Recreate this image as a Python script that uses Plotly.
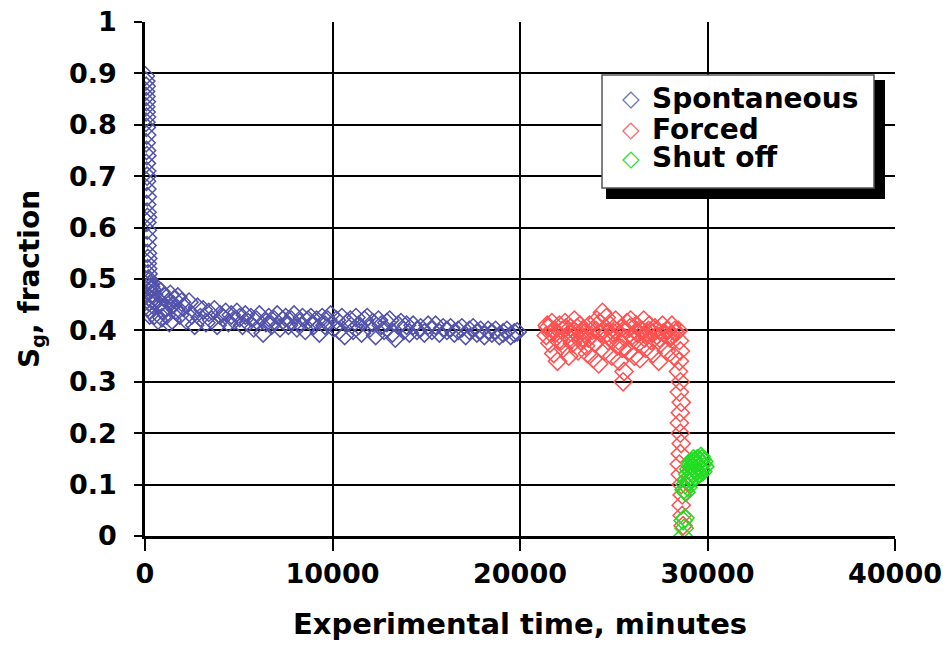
import plotly.graph_objects as go

# ---- Data ----
spont_t = [20, 40, 60, 30, 50, 70, 40, 60, 80, 50, 70, 90, 60, 80, 100, 70, 90, 110, 80, 100,
           120, 90, 110, 130, 100, 120, 140, 110, 130, 150, 120, 140, 160, 180, 200, 150, 170, 190, 210, 160,
           230, 250, 270, 300, 330, 360, 400,
           350, 450, 550, 650, 750, 850, 950, 1050, 1150, 1250, 1350, 1450, 1550, 1650, 1750, 1850, 1950,
           500, 700, 900, 1100, 1300, 1500,
           2050, 2200, 2350, 2500, 2650, 2800, 2950, 3100, 3250, 3400, 3550, 3700, 3850, 4000, 4150, 4300,
           4450, 4600, 4750, 4900,
           5050, 5200, 5350, 5500, 5650, 5800, 5950, 6100, 6300, 6450, 6600, 6750, 6900, 7050, 7200, 7350,
           7500, 7650, 7800, 7950, 8100, 8250, 8400, 8550, 8700, 8850, 9000, 9150, 9300, 9450, 9600, 9750,
           9900, 10050,
           10200, 10350, 10500, 10650, 10800, 10950, 11100, 11250, 11400, 11550, 11700, 11850, 12000, 12150,
           12300, 12450, 12600, 12750, 12900, 13050, 13200, 13350, 13500, 13650, 13800, 13950, 14100, 14300,
           14500, 14700, 14900, 15100, 15300, 15500, 15700, 15900, 16100, 16300, 16500, 16700, 16900, 17100,
           17300, 17500, 17700, 17900, 18100, 18300, 18500, 18700, 18900, 19100, 19300, 19500, 19700, 19850]
spont_sg = [0.895, 0.885, 0.875, 0.865, 0.855, 0.845, 0.835, 0.825, 0.815, 0.805, 0.795, 0.78, 0.765, 0.75,
            0.74, 0.725, 0.71, 0.70, 0.69, 0.675, 0.66, 0.645, 0.63, 0.62, 0.61, 0.595, 0.58, 0.565, 0.55,
            0.54, 0.53, 0.52, 0.51, 0.50, 0.495, 0.485, 0.475, 0.465, 0.455, 0.445, 0.44, 0.43, 0.49, 0.485,
            0.47, 0.46, 0.45,
            0.48, 0.47, 0.485, 0.46, 0.45, 0.475, 0.44, 0.465, 0.43, 0.455, 0.47, 0.42, 0.46, 0.44, 0.465,
            0.43, 0.455,
            0.43, 0.42, 0.425, 0.445, 0.415, 0.45,
            0.445, 0.42, 0.455, 0.43, 0.41, 0.445, 0.425, 0.44, 0.415, 0.435, 0.42, 0.44, 0.41, 0.43, 0.425,
            0.435, 0.415, 0.43, 0.42, 0.435,
            0.425, 0.41, 0.43, 0.415, 0.425, 0.405, 0.42, 0.43, 0.395, 0.415, 0.425, 0.41, 0.42, 0.43, 0.405,
            0.42, 0.425, 0.41, 0.42, 0.43, 0.405, 0.415, 0.425, 0.40, 0.42, 0.425, 0.41, 0.42, 0.395, 0.425,
            0.41, 0.42, 0.43, 0.405,
            0.42, 0.40, 0.425, 0.39, 0.415, 0.42, 0.40, 0.425, 0.41, 0.395, 0.42, 0.425, 0.405, 0.415, 0.39,
            0.42, 0.41, 0.40, 0.415, 0.42, 0.395, 0.385, 0.41, 0.415, 0.40, 0.41, 0.395, 0.41, 0.40, 0.405,
            0.395, 0.41, 0.40, 0.41, 0.395, 0.405, 0.40, 0.405, 0.395, 0.40, 0.405, 0.39, 0.40, 0.405, 0.395,
            0.40, 0.39, 0.40, 0.395, 0.40, 0.39, 0.395, 0.40, 0.39, 0.395, 0.397]

forced_t = [21400, 21500, 21600, 21700, 21800, 21900, 22000, 22100, 22200, 22300, 22400, 22500, 22600,
            22700, 22800, 22900, 23000, 23100, 23200, 23300, 23400, 23500, 23600, 23700, 23800, 23900,
            24000, 24100, 24200, 24300, 24400, 24500, 24600, 24700, 24800, 24900, 25000, 25100, 25200,
            25300, 25400, 25500, 25550, 25600, 25700, 25800, 25900, 26000, 26100, 26200, 26300, 26400,
            26500, 26600, 26700, 26800, 26900, 27000, 27100, 27200, 27300, 27400, 27500, 27600, 27700,
            27800, 27900, 28000, 28100, 28200, 28300,
            21450, 21650, 21850, 22050, 22250, 22450, 22650, 22850, 23050, 23250, 23450, 23650, 23850,
            24050, 24250, 24450, 24650, 24850, 25050, 25250, 25450, 25650, 25850, 26050, 26250, 26450,
            26650, 26850, 27050, 27250, 27450, 27650, 27850, 28050, 28250,
            28450, 28500, 28550, 28500, 28450, 28550, 28500, 28600, 28550, 28500, 28550, 28600, 28550,
            28500, 28550, 28600, 28650, 28600, 28650, 28700]
forced_sg = [0.39, 0.405, 0.375, 0.415, 0.355, 0.395, 0.34, 0.41, 0.38, 0.365, 0.415, 0.39, 0.35, 0.405,
             0.375, 0.42, 0.395, 0.36, 0.41, 0.385, 0.40, 0.37, 0.355, 0.41, 0.39, 0.345, 0.375, 0.42,
             0.335, 0.395, 0.435, 0.36, 0.425, 0.38, 0.41, 0.35, 0.395, 0.42, 0.37, 0.34, 0.405, 0.30,
             0.32, 0.385, 0.415, 0.36, 0.42, 0.39, 0.35, 0.41, 0.375, 0.345, 0.40, 0.42, 0.365, 0.395,
             0.41, 0.38, 0.355, 0.405, 0.39, 0.34, 0.375, 0.41, 0.395, 0.36, 0.40, 0.385, 0.41, 0.35, 0.395,
             0.41, 0.395, 0.40, 0.38, 0.40, 0.405, 0.385, 0.40, 0.405, 0.38, 0.395, 0.385, 0.40,
             0.40, 0.415, 0.40, 0.395, 0.385, 0.40, 0.38, 0.365, 0.40, 0.405, 0.385, 0.395, 0.40,
             0.385, 0.40, 0.395, 0.40, 0.385, 0.395, 0.40, 0.39, 0.40,
             0.40, 0.38, 0.36, 0.34, 0.32, 0.30, 0.28, 0.26, 0.24, 0.22, 0.20, 0.18, 0.16, 0.14, 0.12, 0.10,
             0.08, 0.06, 0.04, 0.02]

shut_t = [28700, 28750, 28700, 28800, 28750, 28800, 28850, 28900,
          28950, 29000, 29050, 29100, 29150, 29200, 29250, 29300, 29350, 29400, 29450, 29500, 29550,
          29600, 29650, 29700, 29750, 29800, 29850, 29050, 29150, 29250, 29350, 29450, 29550, 29650,
          29750, 28950, 29000]
shut_sg = [0.0, 0.015, 0.03, 0.035, 0.09, 0.10, 0.085, 0.11,
           0.12, 0.13, 0.115, 0.14, 0.125, 0.135, 0.12, 0.145, 0.13, 0.14, 0.125, 0.15, 0.135,
           0.145, 0.13, 0.15, 0.14, 0.145, 0.135, 0.105, 0.145, 0.15, 0.115, 0.15, 0.12, 0.155,
           0.125, 0.095, 0.105]

series_names = ["Spontaneous", "Forced", "Shut off"]
series_colors = ["#5252AA", "#FF5050", "#22DD22"]
legend_symbol_colors = ["#7070B8", "#FF6A6A", "#33DD33"]

x_ticks = [0, 10000, 20000, 30000, 40000]

FONT = "DejaVu Sans"

fig = go.Figure()
for name, xs, ys, col in zip(series_names, [spont_t, forced_t, shut_t],
                             [spont_sg, forced_sg, shut_sg], series_colors):
    fig.add_trace(go.Scatter(
        x=xs, y=ys, mode="markers", name=name, showlegend=False,
        marker=dict(symbol="diamond-open", size=14, color=col, line=dict(width=1.5, color=col)),
    ))

# pixel -> paper helpers (plot area in page pixels)
L, R, T, B = 145, 895, 22, 536
def px_x(p):
    return (p - L) / (R - L)
def px_y(p):
    return (B - p) / (B - T)

# Legend: drop shadow, box, entries (symbol + label as text)
fig.add_shape(type="rect", xref="paper", yref="paper",
              x0=px_x(606), x1=px_x(885), y0=px_y(199), y1=px_y(80),
              fillcolor="black", line=dict(width=0), layer="above")
fig.add_shape(type="rect", xref="paper", yref="paper",
              x0=px_x(602), x1=px_x(874), y0=px_y(188), y1=px_y(75),
              fillcolor="white", line=dict(width=1.5, color="#555555"), layer="above")
row_y = [98, 129, 158]
for name, col, ry in zip(series_names, legend_symbol_colors, row_y):
    fig.add_annotation(xref="paper", yref="paper", x=px_x(631), y=px_y(ry),
                       text="◇", showarrow=False, xanchor="center", yanchor="middle",
                       font=dict(family=FONT, size=23, color=col))
    fig.add_annotation(xref="paper", yref="paper", x=px_x(650), y=px_y(ry),
                       text=name, showarrow=False, xanchor="left", yanchor="middle",
                       font=dict(family=FONT, size=28, color="black", weight="bold"))

fig.update_layout(
    width=945, height=648,
    margin=dict(l=145, r=50, t=22, b=112),
    paper_bgcolor="white", plot_bgcolor="white",
    font=dict(family=FONT, size=26, color="black", weight="bold"),
    showlegend=False,
)

fig.update_xaxes(
    range=[0, 40000], tickvals=x_ticks, tickformat="d", automargin=False,
    ticklabeloverflow="allow",
    showgrid=True, gridcolor="black", gridwidth=1.5,
    showline=True, linecolor="black", linewidth=2.5,
    ticks="outside", ticklen=12, tickwidth=2, tickcolor="black",
    ticklabelstandoff=0,
    tickfont=dict(family=FONT, size=27, color="black", weight="bold"),
    title=dict(text="Experimental time, minutes", standoff=26,
               font=dict(family=FONT, size=29, color="black", weight="bold")),
    zeroline=False,
)
fig.update_yaxes(
    range=[0, 1], dtick=0.1, automargin=False,
    ticklabeloverflow="allow",
    showgrid=True, gridcolor="black", gridwidth=1.5,
    showline=True, linecolor="black", linewidth=2.5,
    ticks="outside", ticklen=8, tickwidth=2, tickcolor="black",
    ticklabelstandoff=12,
    tickfont=dict(family=FONT, size=27, color="black", weight="bold"),
    title=dict(text="S<sub>g</sub>, fraction", standoff=22,
               font=dict(family=FONT, size=28, color="black", weight="bold")),
    zeroline=False,
)

fig.write_html("out.html", config={"displayModeBar": False},
               post_script="document.body.style.margin='0';")
